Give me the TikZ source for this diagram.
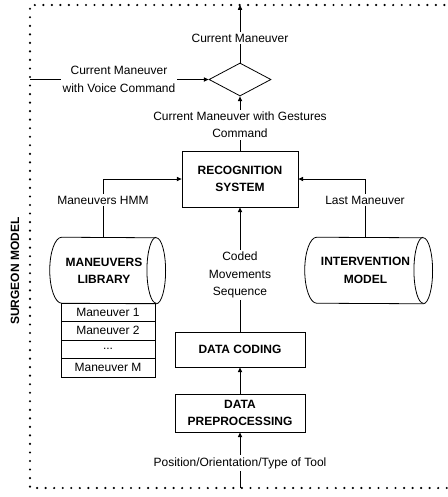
\documentclass[tikz,border=0pt]{standalone}
\usepackage{fontspec}
\setmainfont{Liberation Sans}
\usetikzlibrary{shapes.geometric,arrows.meta,calc}
\begin{document}
\begin{tikzpicture}[x=0.75pt,y=-0.75pt,
  font=\fontsize{9}{13}\selectfont,
  ln/.style={line width=0.6pt},
  arr/.style={ln,-{Triangle[length=3.6pt,width=3.2pt]}},
  box/.style={draw, line width=0.6pt, fill=white, align=center, inner sep=0pt, font=\fontsize{9}{13}\selectfont\bfseries},
  bold/.style={align=center, inner sep=0pt, font=\fontsize{9}{13}\selectfont\bfseries},
  lbl/.style={fill=white, align=center, inner sep=1.5pt},
  listbox/.style={draw, line width=0.6pt, minimum width=70.5pt, minimum height=13.875pt, inner sep=0pt},
  dots/.style={line width=1.8pt, dash pattern=on 0pt off 6.4pt, line cap=round}
]
\useasboundingbox (0,0) rectangle (448,497);
\clip (0,0) rectangle (448,497);

% border
\coordinate (topc) at (240,5);
\coordinate (leftc) at (30,79.5);
\coordinate (botc) at (240,488);
\draw[dots] (470,5) -- (30,5) -- (30,488) -- (470,488);

% shapes
\node[draw, ln, diamond, minimum width=46.5pt, minimum height=24.75pt, inner sep=0pt] (dia) at (240,79.5) {};
\node[box, minimum width=87pt, minimum height=42pt] (rec) at (240,179) {RECOGNITION\\SYSTEM};
\node[box, minimum width=97.5pt, minimum height=26.25pt] (dc) at (240,349.5) {DATA CODING};
\node[box, minimum width=97.5pt, minimum height=28.5pt] (pp) at (240,413) {DATA\\PREPROCESSING};

\node[minimum width=70.5pt, minimum height=49.5pt, inner sep=0pt] (lib) at (109,270.5) {};
\draw[ln] (lib.north west) arc[start angle=90, end angle=270, x radius=9pt, y radius=24.75pt]
  -- (lib.south east) arc[start angle=-90, end angle=90, x radius=7pt, y radius=24.75pt] -- cycle;
\draw[ln] (lib.north east) arc[start angle=90, end angle=270, x radius=7pt, y radius=24.75pt];
\node[bold] (libt) at ($(lib.center)+(-5,0)$) {MANEUVERS\\LIBRARY};

\node[minimum width=79.5pt, minimum height=49.5pt, inner sep=0pt] (int) at (370,270.5) {};
\draw[ln] (int.north west) arc[start angle=90, end angle=270, x radius=9pt, y radius=24.75pt]
  -- (int.south east) arc[start angle=-90, end angle=90, x radius=7pt, y radius=24.75pt] -- cycle;
\draw[ln] (int.north east) arc[start angle=90, end angle=270, x radius=7pt, y radius=24.75pt];
\node[bold] (intt) at ($(int.center)+(-4.5,0)$) {INTERVENTION\\MODEL};

\node[listbox] (m1) at (108,312.25) {Maneuver 1};
\node[listbox] (m2) at (108,330.75) {Maneuver 2};
\node[listbox] (m3) at (108,349.25) {...};
\node[listbox] (m4) at (108,367.75) {Maneuver M};

% label positions
\coordinate (hmmx) at (103,200);
\coordinate (lmx) at (365,200);

% connectors
\draw[arr] (dia.north) -- (topc);
\draw[arr] (leftc) -- (dia.west);
\draw[arr] (rec.north) -- (dia.south);
\draw[arr] (lib.north -| hmmx) |- (rec.west);
\draw[arr] (int.north -| lmx) |- (rec.east);
\draw[arr] (dc.north) -- (rec.south);
\draw[arr] (pp.north) -- (dc.south);
\draw[arr] (botc) -- (pp.south);

% labels
\node[lbl] (l1) at (240,38) {Current Maneuver};
\node[lbl] (l2) at (119,79.5) {Current Maneuver\\with Voice Command};
\node[lbl] (l3) at (240,125) {Current Maneuver with Gestures\\Command};
\node[lbl] (l4) at (hmmx) {Maneuvers HMM};
\node[lbl] (l5) at (lmx) {Last Maneuver};
\node[lbl] (l6) at (240,275) {Coded\\Movements\\Sequence};
\node[lbl] (l7) at (240,463) {Position/Orientation/Type of Tool};
\node[bold, rotate=90] (sm) at (15,271) {SURGEON MODEL};
\end{tikzpicture}
\end{document}
